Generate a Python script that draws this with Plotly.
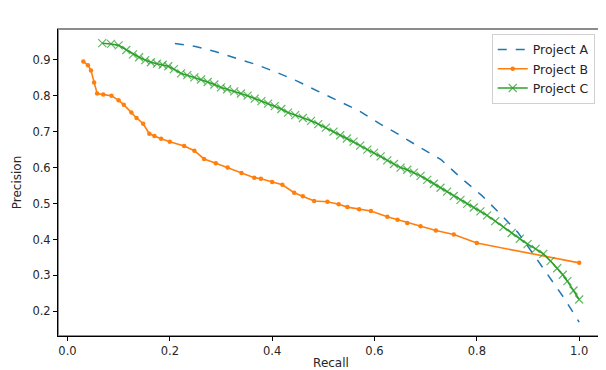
import plotly.graph_objects as go

# values
recall_a = [0.21, 0.25, 0.29, 0.33, 0.37, 0.41, 0.45, 0.49, 0.53, 0.57, 0.61,
            0.65, 0.69, 0.73, 0.77, 0.81, 0.85, 0.88, 0.91, 0.94, 0.97, 1.0]
precision_a = [0.945, 0.937, 0.922, 0.905, 0.886, 0.864, 0.840, 0.812, 0.786, 0.758, 0.722,
               0.690, 0.655, 0.622, 0.570, 0.522, 0.465, 0.420, 0.360, 0.300, 0.238, 0.170]

recall_b = [0.031, 0.040, 0.046, 0.052, 0.058, 0.07, 0.086, 0.10, 0.11, 0.125, 0.135,
            0.148, 0.16, 0.17, 0.183, 0.20, 0.228, 0.248, 0.267, 0.29, 0.313, 0.34,
            0.365, 0.378, 0.40, 0.42, 0.443, 0.46, 0.482, 0.508, 0.53, 0.547, 0.57,
            0.593, 0.625, 0.645, 0.664, 0.69, 0.72, 0.755, 0.80, 1.0]
precision_b = [0.895, 0.885, 0.87, 0.837, 0.806, 0.803, 0.80, 0.787, 0.775, 0.753, 0.738,
               0.722, 0.694, 0.688, 0.68, 0.672, 0.66, 0.647, 0.624, 0.612, 0.60, 0.585,
               0.572, 0.569, 0.56, 0.552, 0.53, 0.52, 0.507, 0.505, 0.498, 0.49, 0.484,
               0.479, 0.463, 0.455, 0.446, 0.437, 0.425, 0.414, 0.39, 0.335]

recall_c = [0.068, 0.085, 0.100, 0.115, 0.128, 0.140, 0.152, 0.163, 0.175, 0.186, 0.197,
            0.208, 0.222, 0.234, 0.248, 0.261, 0.274, 0.287, 0.300, 0.312, 0.326, 0.339,
            0.352, 0.366, 0.379, 0.392, 0.405, 0.418, 0.431, 0.445, 0.460, 0.476, 0.490,
            0.505, 0.520, 0.533, 0.546, 0.559, 0.572, 0.586, 0.599, 0.612, 0.625, 0.638,
            0.651, 0.664, 0.677, 0.690, 0.703, 0.716, 0.729, 0.742, 0.755, 0.768, 0.781,
            0.794, 0.807, 0.820, 0.836, 0.852, 0.868, 0.884, 0.899, 0.915, 0.930, 0.944,
            0.957, 0.968, 0.977, 0.989, 1.000]
precision_c = [0.946, 0.944, 0.940, 0.927, 0.915, 0.907, 0.899, 0.893, 0.889, 0.886, 0.882,
               0.874, 0.862, 0.857, 0.851, 0.845, 0.838, 0.831, 0.823, 0.818, 0.812, 0.806,
               0.800, 0.792, 0.785, 0.778, 0.771, 0.763, 0.753, 0.746, 0.738, 0.730, 0.721,
               0.711, 0.700, 0.690, 0.681, 0.672, 0.661, 0.650, 0.641, 0.631, 0.620, 0.610,
               0.600, 0.594, 0.586, 0.577, 0.566, 0.555, 0.544, 0.533, 0.521, 0.510, 0.499,
               0.489, 0.478, 0.467, 0.451, 0.435, 0.418, 0.402, 0.387, 0.374, 0.360, 0.340,
               0.320, 0.302, 0.284, 0.258, 0.233]

x_ticks = [0.0, 0.2, 0.4, 0.6, 0.8, 1.0]
y_ticks = [0.2, 0.3, 0.4, 0.5, 0.6, 0.7, 0.8, 0.9]

fig = go.Figure()
fig.add_trace(go.Scatter(x=recall_a, y=precision_a, mode='lines', name='Project A',
                         line=dict(color='#1f77b4', width=1.5, dash='dash')))
fig.add_trace(go.Scatter(x=recall_b, y=precision_b, mode='lines+markers', name='Project B',
                         line=dict(color='#ff7f0e', width=1.6),
                         marker=dict(symbol='circle', size=4.5, color='#ff7f0e')))
fig.add_trace(go.Scatter(x=recall_c, y=precision_c, mode='lines+markers', name='Project C',
                         line=dict(color='#2ca02c', width=1.6),
                         marker=dict(symbol='x-thin', size=8, color='#2ca02c',
                                     line=dict(width=1.2, color='rgba(44,160,44,0.75)'))))

# grey frame on top/right, black axes on left/bottom
fig.add_shape(type='rect', xref='paper', yref='paper', x0=0, y0=0, x1=1, y1=1,
              line=dict(color='#8c8c8c', width=2), layer='below')

# page body has an 8px margin, so the figure is sized to fit the 606x370 window
axis_font = dict(family='DejaVu Sans', size=11.5, color='#262626')
fig.update_layout(
    width=598, height=362,
    margin=dict(l=50, r=2, t=21, b=34),
    plot_bgcolor='white', paper_bgcolor='white',
    font=axis_font,
    showlegend=True,
    legend=dict(x=0.983, y=0.984, xanchor='right', yanchor='top',
                bgcolor='rgba(255,255,255,0.8)', bordercolor='#d0d0d0', borderwidth=1,
                font=dict(family='DejaVu Sans', size=12.5, color='#262626'),
                tracegroupgap=0),
    xaxis=dict(range=[-0.0185, 1.0485], tickvals=x_ticks, ticktext=[f'{v:.1f}' for v in x_ticks],
               showgrid=False, zeroline=False, showline=True, linecolor='black', linewidth=1,
               ticks='outside', ticklen=4, tickcolor='black',
               title=dict(text='Recall', font=dict(size=12), standoff=2)),
    yaxis=dict(range=[0.1315, 0.9855], tickvals=y_ticks, ticktext=[f'{v:.1f}' for v in y_ticks],
               showgrid=False, zeroline=False, showline=True, linecolor='black', linewidth=1,
               ticks='outside', ticklen=4, tickcolor='black',
               title=dict(text='Precision', font=dict(size=12), standoff=8)),
)

fig.write_html("out.html")
